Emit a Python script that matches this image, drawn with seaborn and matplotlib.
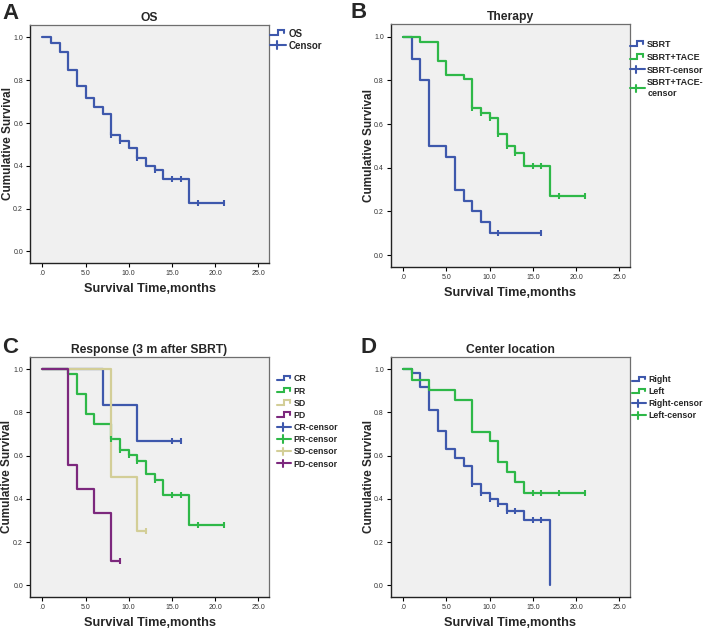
import numpy as np
import pandas as pd
import matplotlib
matplotlib.use("Agg")
import matplotlib.pyplot as plt
import seaborn as sns
from matplotlib.legend_handler import HandlerBase
from matplotlib.lines import Line2D

# ---------------- data ----------------
# Panel A: OS
os_t = [0, 1, 2, 3, 4, 5, 6, 7, 8, 9, 10, 11, 12, 13, 14, 17, 21]
os_s = [1.0, 0.973, 0.930, 0.846, 0.774, 0.717, 0.674, 0.643, 0.545, 0.514,
        0.484, 0.436, 0.400, 0.382, 0.338, 0.226, 0.226]
os_c = [8, 9, 11, 13, 15, 16, 18, 21]

# Panel B: Therapy
sbrt_t = [0, 1, 2, 3, 5, 6, 7, 8, 9, 10, 16]
sbrt_s = [1.0, 0.90, 0.80, 0.50, 0.45, 0.30, 0.25, 0.20, 0.15, 0.10, 0.10]
sbrt_c = [11, 16]
tace_t = [0, 2, 4, 5, 7, 8, 9, 10, 11, 12, 13, 14, 17, 21]
tace_s = [1.0, 0.977, 0.890, 0.826, 0.807, 0.673, 0.651, 0.629, 0.553, 0.499,
          0.467, 0.406, 0.271, 0.271]
tace_c = [8, 9, 10, 11, 12, 13, 15, 16, 18, 21]

# Panel C: Response
cr_t = [0, 7, 11, 16]
cr_s = [1.0, 0.833, 0.667, 0.667]
cr_c = [15, 16]
pr_t = [0, 3, 4, 5, 6, 8, 9, 10, 11, 12, 13, 14, 17, 21]
pr_s = [1.0, 0.980, 0.884, 0.794, 0.746, 0.677, 0.624, 0.601, 0.576, 0.516,
        0.487, 0.417, 0.277, 0.277]
pr_c = [8, 9, 10, 11, 13, 15, 16, 18, 21]
sd_t = [0, 8, 11, 12]
sd_s = [1.0, 0.50, 0.25, 0.25]
sd_c = [12]
pd_t = [0, 3, 4, 6, 8, 9]
pd_s = [1.0, 0.556, 0.444, 0.333, 0.111, 0.111]
pd_c = [9]

# Panel D: Center location
right_t = [0, 1, 2, 3, 4, 5, 6, 7, 8, 9, 10, 11, 12, 14, 17]
right_s = [1.0, 0.981, 0.917, 0.812, 0.715, 0.633, 0.591, 0.552, 0.469, 0.426,
           0.400, 0.377, 0.345, 0.302, 0.0]
right_c = [8, 9, 10, 11, 12, 13, 15, 16]
left_t = [0, 1, 3, 6, 8, 10, 11, 12, 13, 14, 21]
left_s = [1.0, 0.951, 0.904, 0.858, 0.711, 0.668, 0.572, 0.525, 0.477, 0.429, 0.429]
left_c = [15, 16, 18, 21]

x_ticks = [0, 5, 10, 15, 20, 25]
x_ticklabels = [".0", "5.0", "10.0", "15.0", "20.0", "25.0"]
y_ticks = [0.0, 0.2, 0.4, 0.6, 0.8, 1.0]
y_ticklabels = ["0.0", "0.2", "0.4", "0.6", "0.8", "1.0"]

BLUE = "#3E58AC"
GREEN = "#2EB848"
TAN = "#D3CE97"
PURPLE = "#7C287D"

# ---------------- style ----------------
sns.set_theme(style="white")
plt.rcParams["font.family"] = ["Liberation Sans", "DejaVu Sans"]


class StepProxy:
    def __init__(self, color):
        self.color = color


class CensorProxy:
    def __init__(self, color):
        self.color = color


class StepHandler(HandlerBase):
    def create_artists(self, legend, orig_handle, xdescent, ydescent, width,
                       height, fontsize, trans):
        x0, y0 = -xdescent, -ydescent
        xs = [x0, x0 + 0.5 * width, x0 + 0.5 * width, x0 + 0.88 * width, x0 + 0.88 * width]
        ys = [y0 + 0.2 * height, y0 + 0.2 * height, y0 + 0.95 * height,
              y0 + 0.95 * height, y0 + 0.5 * height]
        return [Line2D(xs, ys, color=orig_handle.color, lw=1.5, transform=trans,
                       solid_joinstyle="miter")]


class CensorHandler(HandlerBase):
    def create_artists(self, legend, orig_handle, xdescent, ydescent, width,
                       height, fontsize, trans):
        x0, y0 = -xdescent, -ydescent
        h = Line2D([x0, x0 + width], [y0 + 0.5 * height] * 2,
                   color=orig_handle.color, lw=1.5, transform=trans)
        v = Line2D([x0 + 0.42 * width] * 2, [y0 - 0.1 * height, y0 + 1.1 * height],
                   color=orig_handle.color, lw=1.5, transform=trans)
        return [h, v]


HMAP = {StepProxy: StepHandler(), CensorProxy: CensorHandler()}


def surv_at(times, surv, tc):
    idx = np.searchsorted(np.asarray(times), np.asarray(tc), side="right") - 1
    return np.asarray(surv)[idx]


def draw_curve(ax, t, s, c, color):
    df = pd.DataFrame({"t": t, "s": s})
    sns.lineplot(data=df, x="t", y="s", drawstyle="steps-post", estimator=None,
                 sort=False, color=color, lw=1.6, ax=ax, legend=False)
    cdf = pd.DataFrame({"t": c, "s": surv_at(t, s, c)})
    sns.scatterplot(data=cdf, x="t", y="s", marker="|", s=22, linewidth=1.5,
                    color=color, ax=ax, legend=False, zorder=4)


def style_axes(ax, title, ylab_x):
    ax.set_facecolor("#F0F0F0")
    ax.set_xlim(-1.43, 26.24)
    ax.set_ylim(-0.054, 1.058)
    ax.set_xticks(x_ticks)
    ax.set_xticklabels(x_ticklabels)
    ax.set_yticks(y_ticks)
    ax.set_yticklabels(y_ticklabels)
    ax.tick_params(axis="both", which="major", direction="out", length=3,
                   width=0.8, labelsize=5, colors="black", labelcolor="#333333",
                   pad=2, bottom=True, left=True)
    for side in ["left", "bottom"]:
        ax.spines[side].set_color("#222222")
        ax.spines[side].set_linewidth(1.0)
    for side in ["top", "right"]:
        ax.spines[side].set_color("#6E6E6E")
        ax.spines[side].set_linewidth(0.9)
    ax.set_title(title, fontsize=8.7, fontweight="bold", pad=3)
    ax.set_xlabel("Survival Time,months", fontsize=9.2, fontweight="bold", labelpad=4)
    ax.set_ylabel("Cumulative Survival", fontsize=8.5, fontweight="bold")
    ax.yaxis.set_label_coords(ylab_x, 0.5)


def add_legend(ax, handles, labels, x, y, fs=6.3, spacing=0.3):
    ax.legend(handles, labels, handler_map=HMAP, loc="upper left",
              bbox_to_anchor=(x, y), frameon=False, borderpad=0, borderaxespad=0,
              handlelength=1.66, handletextpad=0.25, labelspacing=spacing,
              prop={"weight": "bold", "size": fs})


fig = plt.figure(figsize=(7.09, 6.28), dpi=100)
W, H = 709.0, 628.0


def make_ax(l, t, r, b):
    return fig.add_axes([l / W, 1 - b / H, (r - l) / W, (b - t) / H])


axA = make_ax(30, 25, 269, 263)
axB = make_ax(390.7, 24, 630, 267)
axC = make_ax(30, 356.7, 269, 597)
axD = make_ax(390.7, 356.7, 630, 597)

# A
draw_curve(axA, os_t, os_s, os_c, BLUE)
style_axes(axA, "OS", -0.068)
add_legend(axA, [StepProxy(BLUE), CensorProxy(BLUE)], ["OS", "Censor"], 1.004, 0.985,
           fs=7, spacing=0.2)

# B
draw_curve(axB, sbrt_t, sbrt_s, sbrt_c, BLUE)
draw_curve(axB, tace_t, tace_s, tace_c, GREEN)
style_axes(axB, "Therapy", -0.066)
add_legend(axB, [StepProxy(BLUE), StepProxy(GREEN), CensorProxy(BLUE), CensorProxy(GREEN)],
           ["SBRT", "SBRT+TACE", "SBRT-censor", "SBRT+TACE-\ncensor"], 1.0, 0.934,
           fs=6.5, spacing=0.42)

# C
draw_curve(axC, cr_t, cr_s, cr_c, BLUE)
draw_curve(axC, pr_t, pr_s, pr_c, GREEN)
draw_curve(axC, sd_t, sd_s, sd_c, TAN)
draw_curve(axC, pd_t, pd_s, pd_c, PURPLE)
style_axes(axC, "Response (3 m after SBRT)", -0.070)
add_legend(axC, [StepProxy(BLUE), StepProxy(GREEN), StepProxy(TAN), StepProxy(PURPLE),
                 CensorProxy(BLUE), CensorProxy(GREEN), CensorProxy(TAN), CensorProxy(PURPLE)],
           ["CR", "PR", "SD", "PD", "CR-censor", "PR-censor", "SD-censor", "PD-censor"],
           1.033, 0.926, spacing=0.36)

# D
draw_curve(axD, right_t, right_s, right_c, BLUE)
draw_curve(axD, left_t, left_s, left_c, GREEN)
style_axes(axD, "Center location", -0.066)
add_legend(axD, [StepProxy(BLUE), StepProxy(GREEN), CensorProxy(BLUE), CensorProxy(GREEN)],
           ["Right", "Left", "Right-censor", "Left-censor"], 1.008, 0.922, spacing=0.34)

# panel letters
for letter, px, py in [("A", 2, 19), ("B", 351, 18), ("C", 2, 353), ("D", 361, 353)]:
    fig.text(px / W, 1 - py / H, letter, fontsize=16, fontweight="bold",
             ha="left", va="baseline")

fig.savefig("out.png", dpi=100, facecolor="white")
